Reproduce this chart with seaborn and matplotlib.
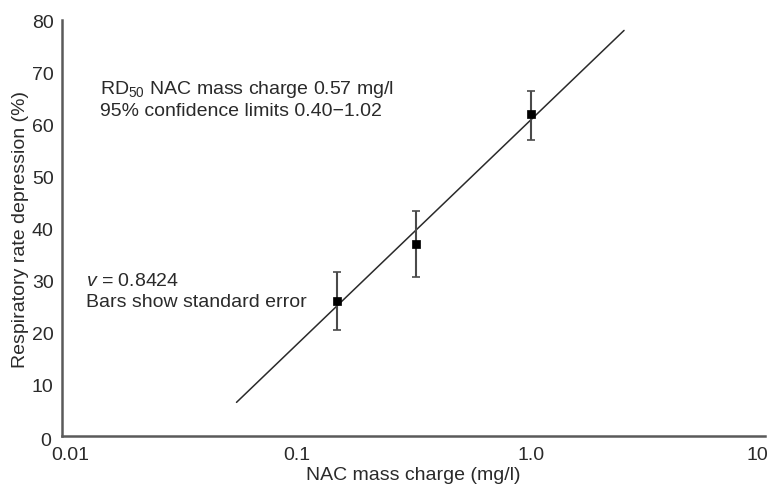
import matplotlib
matplotlib.use("Agg")
import matplotlib.pyplot as plt
import matplotlib.transforms as mtransforms
import seaborn as sns
import pandas as pd

# Measured responses
conc = [0.149, 0.324, 1.0]          # NAC mass charge (mg/l)
depression = [25.9, 37.0, 62.0]     # respiratory rate depression (%)
err_low = [5.5, 6.4, 5.0]
err_high = [5.6, 6.2, 4.4]

# Fitted regression line end points
fit_x = [0.0555, 2.5]
fit_y = [6.5, 78.0]

x_ticks = [0.01, 0.1, 1.0, 10]
x_tick_labels = ["0.01", "0.1", "1.0", "10"]
y_ticks = [10, 20, 30, 40, 50, 60, 70, 80]

sns.set_theme(style="white")
plt.rcParams["font.family"] = ["Liberation Sans", "DejaVu Sans"]
plt.rcParams["mathtext.fontset"] = "custom"
plt.rcParams["mathtext.rm"] = "Liberation Sans"
plt.rcParams["mathtext.it"] = "Liberation Sans:italic"

fs = 14
ink = "#2a2a2a"
axis_grey = "#5a5a5a"

fig = plt.figure(figsize=(7.76, 4.89), dpi=100)
ax = fig.add_axes([0.080, 0.106, 0.906, 0.851])

pts = pd.DataFrame({"conc": conc, "dep": depression})
fit = pd.DataFrame({"x": fit_x, "y": fit_y})

sns.lineplot(data=fit, x="x", y="y", ax=ax, color=ink, linewidth=1.1)
ax.errorbar(conc, depression, yerr=[err_low, err_high], fmt="none",
            ecolor="#4a4a4a", elinewidth=1.5, capsize=3.0, capthick=1.2)
sns.scatterplot(data=pts, x="conc", y="dep", ax=ax, marker="s", s=40,
                color="black", edgecolor="black", zorder=5)

ax.set_xscale("log")
ax.set_xlim(0.01, 10)
ax.set_ylim(0, 80)
ax.set_xticks(x_ticks)
ax.set_xticklabels(x_tick_labels)
ax.minorticks_off()
ax.set_yticks(y_ticks)

for s in ["top", "right"]:
    ax.spines[s].set_visible(False)
for s in ["left", "bottom"]:
    ax.spines[s].set_color(axis_grey)
    ax.spines[s].set_linewidth(1.8)

ax.tick_params(axis="x", direction="in", length=6, width=1.2,
               colors=axis_grey, labelcolor=ink, labelsize=fs, pad=7)
ax.tick_params(axis="y", direction="in", length=6, width=1.2,
               colors=axis_grey, labelcolor=ink, labelsize=fs, pad=6)

# nudge the end labels of the x axis inwards
xlabels = ax.get_xticklabels()
xlabels[0].set_transform(xlabels[0].get_transform() +
                         mtransforms.ScaledTranslation(8 / 100, 0, fig.dpi_scale_trans))
xlabels[-1].set_transform(xlabels[-1].get_transform() +
                          mtransforms.ScaledTranslation(-8 / 100, 0, fig.dpi_scale_trans))

ax.set_xlabel("NAC mass charge (mg/l)", fontsize=fs, color=ink, labelpad=2)
ax.set_ylabel("Respiratory rate depression (%)", fontsize=fs, color=ink, labelpad=2)

# zero label sits at the corner, below-left of the origin
fig.text(46 / 776, 1 - 442 / 489, "0", fontsize=fs, color=ink,
         ha="center", va="center")

ax.text(0.0145, 66.9, "RD$_{50}$ NAC mass charge 0.57 mg/l", fontsize=fs,
        color=ink, va="center")
ax.text(0.0145, 62.7, "95% confidence limits 0.40\u22121.02", fontsize=fs,
        color=ink, va="center")
ax.text(0.0127, 30.0, "$v$ = 0.8424", fontsize=fs, color=ink, va="center")
ax.text(0.0127, 25.9, "Bars show standard error", fontsize=fs, color=ink,
        va="center")

fig.savefig("out.png", dpi=100)
